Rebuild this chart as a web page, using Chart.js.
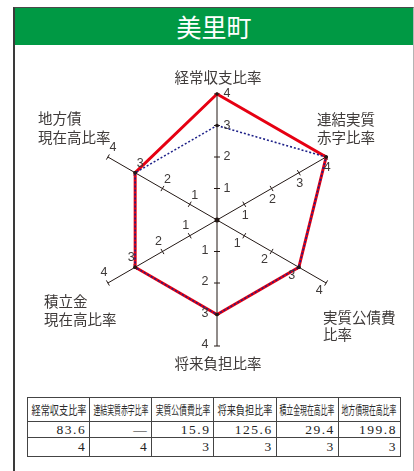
<!DOCTYPE html>
<html><head><meta charset="utf-8">
<script src="https://cdn.jsdelivr.net/npm/chart.js@4.4.1/dist/chart.umd.min.js"></script>
<style>
html,body{margin:0;padding:0;width:414px;height:471px;overflow:hidden;background:#fff;font-family:"Noto Sans CJK JP","Noto Sans",sans-serif;}
#frame{position:absolute;left:13px;top:7px;width:401px;height:470px;border-left:2px solid #3a3a3a;border-top:1px solid #4a4a4a;border-right:1px solid #b4b4b4;box-sizing:border-box;}
#title{position:absolute;left:15px;top:8px;width:398px;height:37px;background:#009944;color:#fff;font-size:25px;text-align:center;line-height:37px;}
#chart{position:absolute;left:0;top:0;z-index:2;}
#tbl{position:absolute;left:27px;top:397px;border-collapse:collapse;table-layout:fixed;width:373px;}
#tbl td{border:1px solid #444;padding:0;color:#222;overflow:visible;}
#tbl tr.h td{height:23px;position:relative;}
#tbl tr.h span{position:absolute;left:50%;top:50%;white-space:nowrap;font-size:12.5px;line-height:14px;font-family:"Noto Sans CJK JP",sans-serif;color:#2a2a2a;}
#tbl tr.v td{text-align:right;font-family:"Liberation Serif","DejaVu Serif",serif;font-size:13.5px;letter-spacing:1.5px;padding-right:3px;line-height:14px;}
#tbl tr.r1 td{height:15px;}
#tbl tr.r2 td{height:18px;}
</style></head>
<body>
<div id="frame"></div>
<div id="title">美里町</div>
<canvas id="chart" width="414" height="471"></canvas>
<table id="tbl"><colgroup id="cols"></colgroup><tbody>
<tr class="h" id="hrow"></tr>
<tr class="v r1" id="vrow"></tr>
<tr class="v r2" id="srow"></tr>
</tbody></table>
<script>
// ---- data ----
const categories = ['経常収支比率','連結実質赤字比率','実質公債費比率','将来負担比率','積立金現在高比率','地方債現在高比率'];
const axisLabelLines = [['経常収支比率'],['連結実質','赤字比率'],['実質公債費','比率'],['将来負担比率'],['積立金','現在高比率'],['地方債','現在高比率']];
const townScores = [4,4,3,3,3,3];
const compareScores = [3,4,3,3,3,3];
const ratioValues = ['83.6','—','15.9','125.6','29.4','199.8'];
const tickValues = [1,2,3,4];

// ---- table ----
const cols = document.getElementById('cols');
const hrow = document.getElementById('hrow'), vrow = document.getElementById('vrow'), srow = document.getElementById('srow');
categories.forEach((c,i)=>{
  const col = document.createElement('col'); col.style.width = (373/6)+'px'; cols.appendChild(col);
  const th = document.createElement('td'); const sp = document.createElement('span'); sp.textContent = c; th.appendChild(sp); hrow.appendChild(th);
  const v = document.createElement('td'); v.textContent = ratioValues[i]; vrow.appendChild(v);
  const s = document.createElement('td'); s.textContent = townScores[i]; srow.appendChild(s);
});
function fitHeaders(){
  hrow.querySelectorAll('span').forEach(sp=>{
    const w = sp.offsetWidth; const s = Math.min(1, 55/w);
    sp.style.transform = 'translate(-50%,-50%) scaleX('+s+')';
  });
}
fitHeaders();
if (document.fonts && document.fonts.ready) document.fonts.ready.then(fitHeaders);

// ---- chart ----
const tickLabelOffsets = [[10,0],[1,11],[-7,8],[-12,-1],[-4,-10],[5,-9]];
const pointLabelLayout = [
  {dx:1, dy:-16.5, align:'center', lh:18},
  {dx:-9, dy:-38, align:'left', lh:18.5},
  {dx:-3, dy:34.5, align:'left', lh:16.5},
  {dx:1, dy:17, align:'center', lh:18},
  {dx:-64, dy:18.5, align:'left', lh:17.5},
  {dx:-70, dy:-39, align:'left', lh:19}
];
const axisDecor = {
  id:'axisDecor',
  beforeDatasetsDraw(chart){
    const sc = chart.scales.r, ctx = chart.ctx;
    ctx.save();
    ctx.strokeStyle = '#231815'; ctx.lineWidth = 1;
    for (let i=0;i<categories.length;i++){
      tickValues.forEach(v=>{
        const p = sc.getPointPositionForValue(i, v);
        const px = -Math.sin(p.angle)*3, py = Math.cos(p.angle)*3;
        ctx.beginPath(); ctx.moveTo(p.x-px, p.y-py); ctx.lineTo(p.x+px, p.y+py); ctx.stroke();
      });
    }
    ctx.fillStyle = '#231815';
    ctx.beginPath(); ctx.arc(sc.xCenter, sc.yCenter, 2.5, 0, Math.PI*2); ctx.fill();
    ctx.restore();
  },
  afterDraw(chart){
    const sc = chart.scales.r, ctx = chart.ctx;
    ctx.save();
    ctx.fillStyle = '#3e3a39';
    ctx.font = '12.5px "Liberation Sans", Arial, sans-serif';
    ctx.textAlign = 'center'; ctx.textBaseline = 'middle';
    for (let i=0;i<categories.length;i++){
      tickValues.forEach(v=>{
        const p = sc.getPointPositionForValue(i, v);
        ctx.fillText(String(v), p.x + tickLabelOffsets[i][0], p.y + tickLabelOffsets[i][1]);
      });
    }
    ctx.font = '14.5px "Noto Sans CJK JP", sans-serif';
    for (let i=0;i<categories.length;i++){
      const p = sc.getPointPositionForValue(i, sc.max);
      const L = pointLabelLayout[i];
      ctx.textAlign = L.align;
      axisLabelLines[i].forEach((t,k)=>{
        ctx.fillText(t, p.x + L.dx, p.y + L.dy + k*L.lh);
      });
    }
    ctx.restore();
  }
};

new Chart(document.getElementById('chart'), {
  type:'radar',
  data:{
    labels: categories,
    datasets:[
      {label:'比較', data: compareScores, borderColor:'#1d2088', borderWidth:1.6, borderDash:[2,2], fill:false, tension:0,
       pointRadius:1.8, pointBackgroundColor:'#231815', pointBorderWidth:0, order:0},
      {label:'美里町', data: townScores, borderColor:'#e60012', borderWidth:3, fill:false, tension:0,
       pointRadius:1.8, pointBackgroundColor:'#231815', pointBorderWidth:0, order:1}
    ]
  },
  options:{
    responsive:false, animation:false, devicePixelRatio:1,
    layout:{padding:{left:91,right:71,top:94,bottom:125}},
    plugins:{legend:{display:false}, tooltip:{enabled:false}},
    scales:{r:{
      min:0, max:4,
      ticks:{display:false, stepSize:1},
      grid:{display:false},
      angleLines:{display:true, color:'#231815', lineWidth:1},
      pointLabels:{display:false}
    }}
  },
  plugins:[axisDecor]
});
</script>
</body></html>
